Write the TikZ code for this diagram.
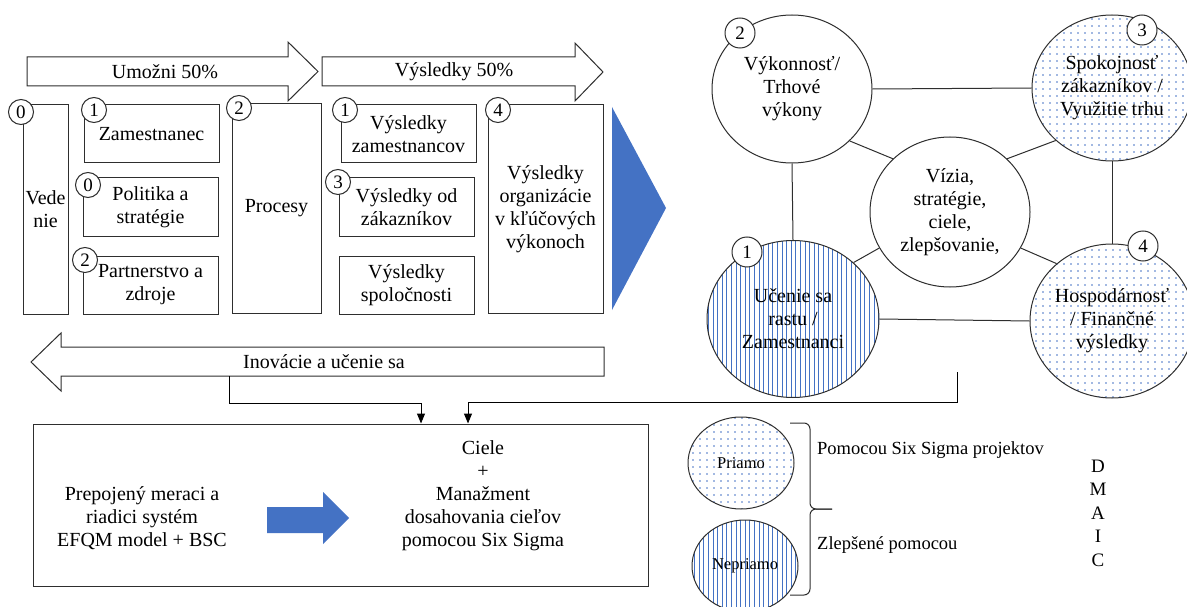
\documentclass[tikz,border=0pt]{standalone}
\usepackage{fontspec}
\setmainfont{Liberation Serif}
\usetikzlibrary{patterns.meta, arrows.meta, shapes.geometric}
\definecolor{myblue}{HTML}{4472C4}
\definecolor{lineclr}{HTML}{2E2E2E}
\begin{document}
\begin{tikzpicture}[x=1pt,y=-1pt,
  every node/.style={font=\fontsize{20}{23}\selectfont, align=center, inner sep=0pt},
  box/.style={draw=lineclr, line width=1pt, fill=white, rectangle},
  badge/.style={draw=lineclr, line width=1pt, fill=white, circle, minimum size=25pt, font=\fontsize{19}{19}\selectfont},
  bigbadge/.style={badge, minimum size=30pt},
  bigarrow/.style={draw=lineclr, line width=1pt, fill=white},
  disc/.style={draw=lineclr, line width=1pt, ellipse},
  dotsfill/.style={pattern={Dots[distance=7pt, radius=0.85pt]}, pattern color=myblue},
  stripefill/.style={pattern={Lines[angle=90, distance=4.6pt, line width=1pt]}, pattern color=myblue},
  link/.style={draw=lineclr, line width=1pt},
  flow/.style={draw=black, line width=1pt, -{Triangle[width=8pt,length=10pt]}},
  smalltext/.style={font=\fontsize{16.5}{19}\selectfont},
  sidetext/.style={font=\fontsize{18.5}{22}\selectfont},
]
\useasboundingbox (0,0) rectangle (1187,607);

% top process arrows
\draw[bigarrow] (27,57) -- (288,57) -- (288,42) -- (318,71.5) -- (288,101) -- (288,86) -- (27,86) -- cycle;
\node (umozni) at (165,72) {Umožni 50\%};
\draw[bigarrow] (322,57) -- (575,57) -- (575,43) -- (603,72) -- (575,101) -- (575,86) -- (322,86) -- cycle;
\node (vysl) at (454,72) {Výsledky 50\%};

% EFQM boxes
\node[box, minimum width=45pt, minimum height=209pt] (ved) at (45.5,209.5) {Vede\\nie};
\node[box, minimum width=135pt, minimum height=58pt] (zam) at (151.5,134) {Zamestnanec};
\node[box, minimum width=135pt, minimum height=58pt] (pol) at (150.5,207) {Politika a\\stratégie};
\node[box, minimum width=135pt, minimum height=58pt] (par) at (150.5,285) {Partnerstvo a\\zdroje};
\node[box, minimum width=89pt, minimum height=209pt] (proc) at (276.5,208.5) {Procesy};
\node[box, minimum width=135pt, minimum height=58pt] (vzam) at (408.5,134) {Výsledky\\zamestnancov};
\node[box, minimum width=135pt, minimum height=58pt] (vzak) at (406.5,207) {Výsledky od\\zákazníkov};
\node[box, minimum width=135pt, minimum height=58pt] (vspol) at (406.5,285) {Výsledky\\spoločnosti};
\node[box, minimum width=115pt, minimum height=208pt] (vorg) at (545.5,209) {Výsledky\\organizácie\\v kľúčových\\výkonoch};

% badges on boxes
\node[badge] (bved) at (21,112) {0};
\node[badge] (bzam) at (94,110) {1};
\node[badge] (bpol) at (88,185) {0};
\node[badge] (bpar) at (85,260) {2};
\node[badge] (bproc) at (239,108) {2};
\node[badge] (bvzam) at (345,110) {1};
\node[badge] (bvzak) at (338,182) {3};
\node[badge] (bvorg) at (498,110) {4};

% blue triangle
\fill[myblue] (612,107) -- (666,208) -- (612,310) -- cycle;

% BSC circles
\node[disc, fill=white, minimum width=160pt, minimum height=148pt] (perf) at (792,89) {Výkonnosť/\\Trhové\\výkony};
\node[disc, dotsfill, minimum width=160pt, minimum height=146pt] (cust) at (1112,88) {Spokojnosť\\zákazníkov /\\Využitie trhu};
\node[disc, fill=white, minimum width=160pt, minimum height=150pt] (vis) at (950,212) {Vízia,\\stratégie,\\ciele,\\zlepšovanie,};
\node[disc, stripefill, minimum width=172pt, minimum height=157pt] (learn) at (793,319) {Učenie sa\\rastu /\\Zamestnanci};
\node[disc, dotsfill, minimum width=164pt, minimum height=154pt] (fin) at (1112,321) {Hospodárnosť\\/ Finančné\\výsledky};

\draw[link] (perf.east) -- (cust.west);
\draw[link] (perf.-42) -- (vis.137);
\draw[link] (cust.-137) -- (vis.43);
\draw[link] (perf.south) -- (learn.north);
\draw[link] (cust.south) -- (fin.north);
\draw[link] (learn.43) -- (vis.207);
\draw[link] (vis.-27) -- (fin.134);
\draw[link] (learn.east) -- (fin.west);

\node[bigbadge] (bperf) at (740,33) {2};
\node[bigbadge] (bcust) at (1142,30) {3};
\node[bigbadge] (blearn) at (747,252) {1};
\node[bigbadge] (bfin) at (1143,246) {4};

% innovation arrow
\draw[bigarrow] (604,347) -- (61,347) -- (61,333) -- (31,362) -- (61,391) -- (61,376) -- (604,376) -- cycle;
\node (inov) at (324,362) {Inovácie a učenie sa};

% bottom box
\node[box, minimum width=615pt, minimum height=162pt] (sys) at (340.5,505) {};
\node (meas) at (142,518) {Prepojený meraci a\\riadici systém\\EFQM model + BSC};
\node (goals) at (483,496) {Ciele\\+\\Manažment\\dosahovania cieľov\\pomocou Six Sigma};
\fill[myblue] (267,507) -- (323,507) -- (323,492) -- (349,518) -- (323,544) -- (323,533) -- (267,533) -- cycle;

% feedback connectors
\coordinate (inovbot) at (229,376);
\coordinate (fbstart) at (957,372);
\draw[flow] (inovbot) |- (421,403) -- (421,0 |- sys.north);
\draw[flow] (fbstart) |- (468,402) -- (468,0 |- sys.north);

% legend
\node[disc, dotsfill, smalltext, minimum width=106pt, minimum height=92pt] (priamo) at (741,463) {Priamo};
\node[disc, stripefill, smalltext, minimum width=106pt, minimum height=92pt] (nepriamo) at (745,566) {Nepriamo};
\draw[link, rounded corners=6pt] (790,423) -- (810,423) -- (810,509) -- (832,509);
\draw[link, rounded corners=6pt] (832,509) -- (810,509) -- (810,595) -- (790,595);
\node[sidetext, anchor=west] (p6s) at (817,450) {Pomocou Six Sigma projektov};
\node[sidetext, anchor=west] (zlep) at (817,545) {Zlepšené pomocou};
\node[font=\fontsize{19}{23.5}\selectfont] (dmaic) at (1098,513) {D\\M\\A\\I\\C};
\end{tikzpicture}
\end{document}
